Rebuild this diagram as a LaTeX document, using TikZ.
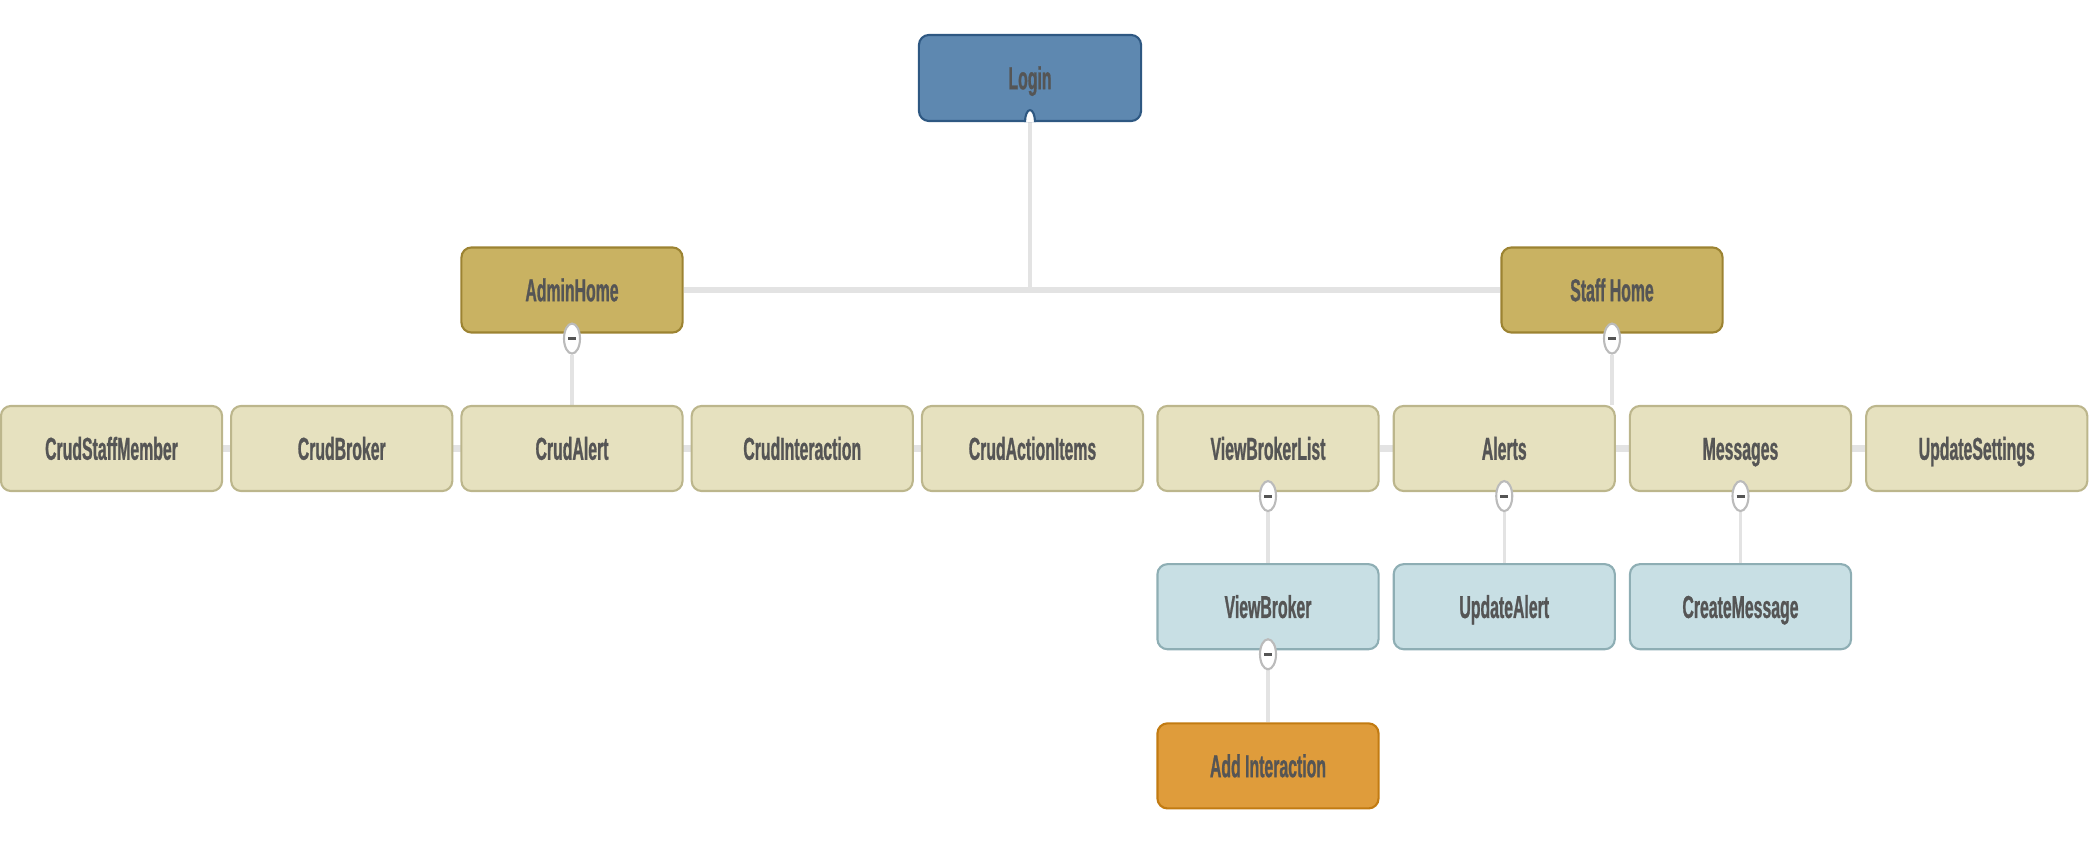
\documentclass[tikz,border=0pt]{standalone}
\usepackage{fontspec}
\setmainfont[FakeStretch=0.5, BoldFeatures={FakeBold=0.8}]{Liberation Sans}
\usepackage{xcolor}
\usepackage{tikz}
\usetikzlibrary{shapes.geometric, positioning, backgrounds}
\definecolor{loginfill}{HTML}{5E88B0}
\definecolor{loginedge}{HTML}{2E5882}
\definecolor{homefill}{HTML}{C9B262}
\definecolor{homeedge}{HTML}{9C8332}
\definecolor{itemfill}{HTML}{E6E1BF}
\definecolor{itemedge}{HTML}{BCB68C}
\definecolor{subfill}{HTML}{C8DFE4}
\definecolor{subedge}{HTML}{8EAEB4}
\definecolor{addfill}{HTML}{DF9C3B}
\definecolor{addedge}{HTML}{C27B12}
\definecolor{linkgray}{HTML}{E3E3E3}
\definecolor{textgray}{HTML}{555555}
\definecolor{btnedge}{HTML}{BBBBBB}
\tikzset{
    page/.style={rectangle, rounded corners=0.1cm, line width=0.6pt, minimum width=2.21cm, minimum height=0.85cm, text centered, text height=6.4pt, text depth=0pt, font=\fontsize{9}{10}\selectfont\bfseries, text=textgray},
    login/.style={page, fill=loginfill, draw=loginedge, minimum width=2.22cm, minimum height=0.86cm},
    home/.style={page, fill=homefill, draw=homeedge},
    item/.style={page, fill=itemfill, draw=itemedge},
    sub/.style={page, fill=subfill, draw=subedge},
    add/.style={page, fill=addfill, draw=addedge},
    btn/.style={ellipse, draw=btnedge, line width=0.6pt, fill=white, minimum width=0.16cm, minimum height=0.30cm, inner sep=0pt},
    bus/.style={draw=linkgray, line width=0.065cm},
    stem/.style={draw=linkgray, line width=0.035cm}
}
\newcommand{\minusbar}{\textcolor{textgray}{\rule{0.08cm}{0.03cm}}}

\begin{document}
\begin{tikzpicture}[x=0.01cm, y=-0.01cm, node distance=0.72cm]
    \useasboundingbox (0,0) rectangle (2093,861);

    \node (login) [login] at (1030,78) {Login};
    \node (admin) [home] at (572,290) {AdminHome};
    \node (staff) [home] at (1612,290) {Staff Home};

    % admin row
    \node (crudalert) [item] at (572,448.5) {CrudAlert};
    \node (crudbroker) [item, left=0.07cm of crudalert] {CrudBroker};
    \node (crudstaff) [item, left=0.07cm of crudbroker] {CrudStaffMember};
    \node (crudinter) [item, right=0.07cm of crudalert] {CrudInteraction};
    \node (crudaction) [item, right=0.07cm of crudinter] {CrudActionItems};

    % staff row
    \node (brokerlist) [item] at (1268,448.5) {ViewBrokerList};
    \node (alerts) [item, right=0.13cm of brokerlist] {Alerts};
    \node (messages) [item, right=0.13cm of alerts] {Messages};
    \node (settings) [item, right=0.13cm of messages] {UpdateSettings};

    \node (viewbroker) [sub, below=0.71cm of brokerlist] {ViewBroker};
    \node (updatealert) [sub, below=0.71cm of alerts] {UpdateAlert};
    \node (createmsg) [sub, below=0.71cm of messages] {CreateMessage};
    \node (addinter) [add, below=0.72cm of viewbroker] {Add Interaction};

    % collapse buttons
    \node (adminbtn) [btn] at ([yshift=-0.05cm]admin.south) {\minusbar};
    \node (staffbtn) [btn] at ([yshift=-0.05cm]staff.south) {\minusbar};
    \node (brokerlistbtn) [btn] at ([yshift=-0.04cm]brokerlist.south) {\minusbar};
    \node (alertsbtn) [btn] at ([yshift=-0.04cm]alerts.south) {\minusbar};
    \node (messagesbtn) [btn] at ([yshift=-0.04cm]messages.south) {\minusbar};
    \node (viewbrokerbtn) [btn] at ([yshift=-0.04cm]viewbroker.south) {\minusbar};

    % port under login
    \fill[white] ([xshift=-0.05cm]login.south) arc[start angle=180, end angle=0, x radius=0.05cm, y radius=0.12cm] -- cycle;
    \draw[loginedge, line width=0.6pt] ([xshift=-0.05cm]login.south) arc[start angle=180, end angle=0, x radius=0.05cm, y radius=0.12cm];

    \coordinate (fork) at (login.south |- admin.east);
    \coordinate (staffdrop) at (staffbtn |- alerts.north);

    \begin{scope}[on background layer]
        \draw[stem] (login.south) -- (fork);
        \draw[bus] (admin.east) -- (staff.west);
        \draw[stem] (adminbtn) -- (crudalert.north);
        \draw[stem] (staffbtn) -- (staffdrop);
        \draw[bus] (crudstaff) -- (crudaction);
        \draw[bus] (brokerlist) -- (settings);
        \draw[stem] (brokerlistbtn) -- (viewbroker.north);
        \draw[stem] (alertsbtn) -- (updatealert.north);
        \draw[stem] (messagesbtn) -- (createmsg.north);
        \draw[stem] (viewbrokerbtn) -- (addinter.north);
    \end{scope}
\end{tikzpicture}
\end{document}
